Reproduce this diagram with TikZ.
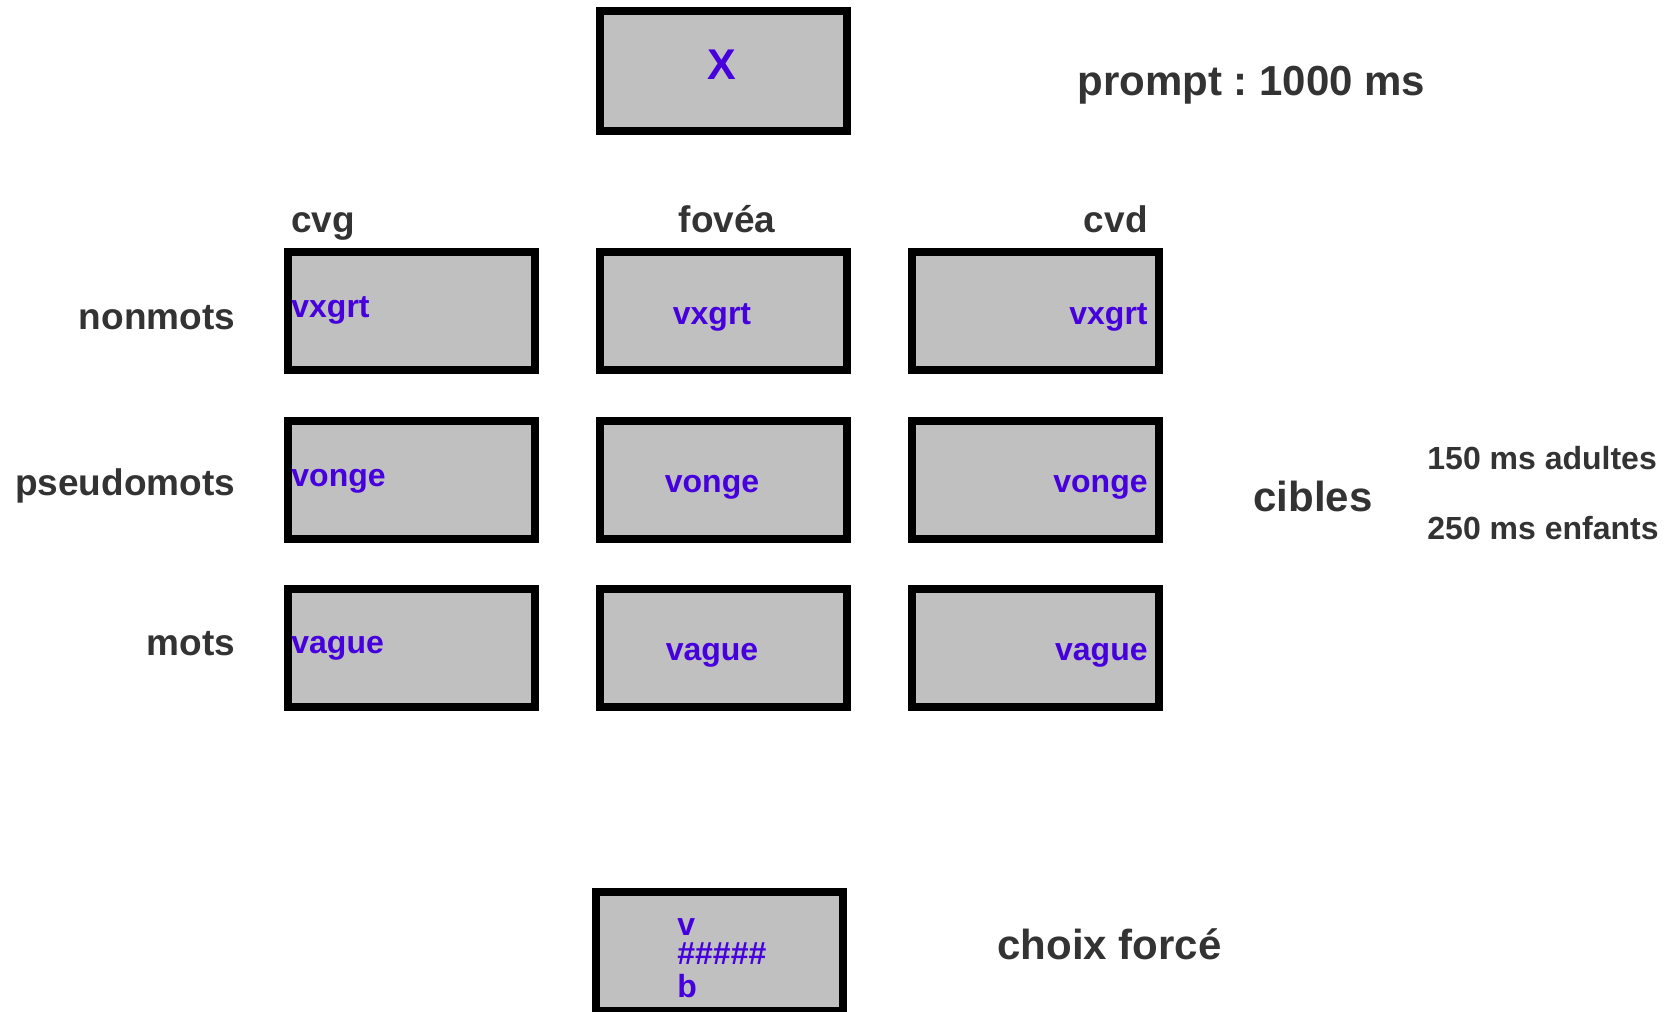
\documentclass[tikz,border=0pt]{standalone}
\usepackage{fontspec}
\setmainfont{Liberation Sans}
\definecolor{lbl}{HTML}{333333}
\definecolor{stim}{HTML}{4600DD}
\definecolor{boxfill}{HTML}{C0C0C0}
\frenchspacing
\begin{document}
\begin{tikzpicture}[x=0.5pt,y=-0.5pt,
 screen/.style={draw=black,line width=4pt,fill=boxfill,minimum width=123.5pt,minimum height=59pt,inner sep=0pt,outer sep=0pt},
 lab/.style={text=lbl,font=\bfseries\fontsize{18.5pt}{20pt}\selectfont,inner sep=0pt},
 biglab/.style={text=lbl,font=\bfseries\fontsize{21pt}{24pt}\selectfont,inner sep=0pt},
 smalllab/.style={text=lbl,font=\bfseries\fontsize{16pt}{18pt}\selectfont,inner sep=0pt},
 word/.style={text=stim,font=\bfseries\fontsize{16pt}{18pt}\selectfont,inner sep=0pt}]
\useasboundingbox (0,0) rectangle (1679,1011);
\clip (0,0) rectangle (1679,1011);

% prompt screen
\node[screen,minimum height=60pt] (top) at (723.5,71) {};
\node[text=stim,font=\bfseries\fontsize{21.5pt}{24pt}\selectfont,inner sep=0pt,anchor=base] (xfix) at (721.7,80) {X};
\node[biglab,anchor=mid west] (prompt) at (1077,90) {prompt : 1000 ms};

% column headers
\node[lab,anchor=mid west] (cvg) at (291,227) {cvg};
\node[lab,anchor=mid] (fovea) at (727,227) {fovéa};
\node[lab,anchor=mid east] (cvd) at (1148,227) {cvd};

% row labels
\node[lab,anchor=mid east] (rnon) at (235.6,324) {nonmots};
\node[lab,anchor=mid east] (rpseudo) at (235.6,490) {pseudomots};
\node[lab,anchor=mid east] (rmots) at (235.6,650) {mots};

% grid of screens
\node[screen] (b11) at (411.5,311) {};
\node[screen] (b12) at (723.5,311) {};
\node[screen] (b13) at (1035.5,311) {};
\node[screen] (b21) at (411.5,479.5) {};
\node[screen] (b22) at (723.5,479.5) {};
\node[screen] (b23) at (1035.5,479.5) {};
\node[screen] (b31) at (411.5,647.5) {};
\node[screen] (b32) at (723.5,647.5) {};
\node[screen] (b33) at (1035.5,647.5) {};

% stimuli
\node[word,anchor=mid west] (w11) at (291,312.5) {vxgrt};
\node[word,anchor=mid] (w12) at (712,319.5) {vxgrt};
\node[word,anchor=mid east] (w13) at (1148,319.5) {vxgrt};
\node[word,anchor=mid west] (w21) at (291,481) {vonge};
\node[word,anchor=mid] (w22) at (712,487.5) {vonge};
\node[word,anchor=mid east] (w23) at (1148,487.5) {vonge};
\node[word,anchor=mid west] (w31) at (291,648) {vague};
\node[word,anchor=mid] (w32) at (712,655.5) {vague};
\node[word,anchor=mid east] (w33) at (1148,655.5) {vague};

% right labels
\node[biglab,anchor=mid west] (cibles) at (1253,506) {cibles};
\node[smalllab,anchor=mid west] (adult) at (1427,464.5) {150 ms adultes};
\node[smalllab,anchor=mid west] (enf) at (1427,534.5) {250 ms enfants};

% forced choice screen
\node[screen,minimum height=59.5pt] (bot) at (719.5,951.5) {};
\node[word,anchor=base west] (cv) at (677,935) {v};
\node[word,anchor=base west] (ch) at (677,964) {\#\#\#\#\#};
\node[word,anchor=base west] (cb) at (677,997) {b};
\node[biglab,anchor=mid west] (choix) at (997,954) {choix forcé};
\end{tikzpicture}
\end{document}
